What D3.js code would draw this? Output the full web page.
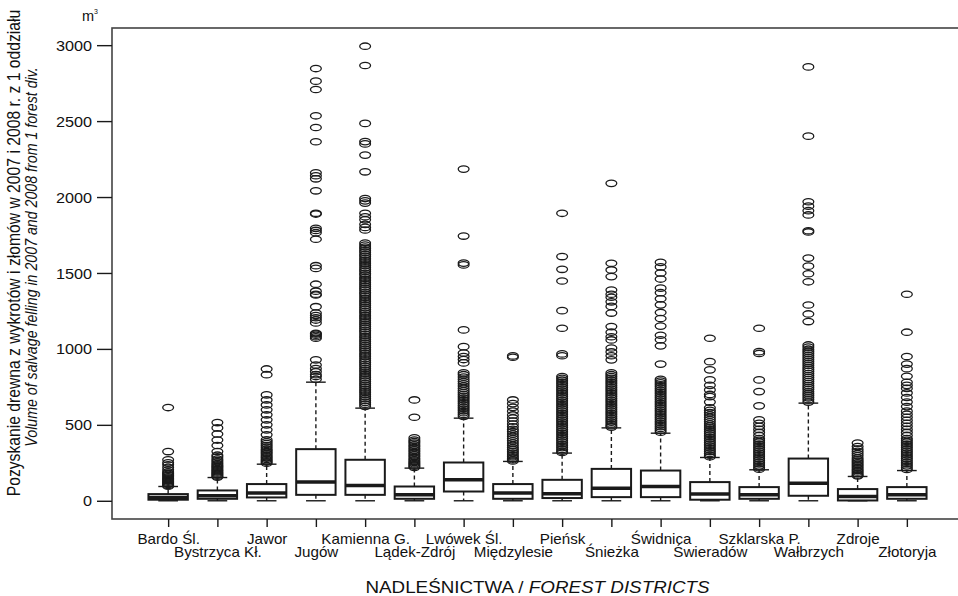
<!DOCTYPE html>
<html>
<head>
<meta charset="utf-8">
<script src="https://cdn.jsdelivr.net/npm/d3@7"></script>
<style>
  html, body { margin: 0; padding: 0; background: #fff; }
  svg { display: block; }
  text { font-family: "Liberation Sans", Arial, sans-serif; fill: #111; }
</style>
</head>
<body>
<svg id="chart" width="958" height="596"></svg>
<script>
// ---------- DATA ----------
const districts = ["Bardo Śl.", "Bystrzyca Kł.", "Jawor", "Jugów", "Kamienna G.", "Lądek-Zdrój",
  "Lwówek Śl.", "Międzylesie", "Pieńsk", "Śnieżka", "Świdnica", "Świeradów",
  "Szklarska P.", "Wałbrzych", "Zdroje", "Złotoryja"];

// box statistics
const lowerWhisker = [0, 0, 0, 0, 0, 0, 0, 0, 0, 0, 0, 0, 0, 0, 0, 0];
const q1Values     = [7, 13, 22, 39, 39, 13, 61, 13, 18, 24, 24, 7, 13, 33, 2, 13];
const medianValues = [22, 33, 51, 123, 101, 39, 138, 51, 46, 83, 94, 44, 39, 116, 28, 39];
const q3Values     = [44, 68, 110, 340, 270, 94, 252, 110, 138, 210, 199, 123, 90, 278, 77, 90];
const upperWhisker = [94, 153, 241, 781, 610, 215, 544, 259, 314, 480, 445, 285, 204, 643, 160, 199];

// outliers per district
const outBardo = [614, 324, 270, 250, 237, 220, 204, 190, 182, 174, 166, 158, 150, 143, 136, 129, 122, 115, 108, 101, 96];
const outBystrzyca = [515, 480, 440, 400, 364, 324, 300, 289, 275, 265, 255, 245, 236, 228, 220, 212, 204, 197, 190, 183, 176, 169, 162, 156];
const outJawor = [868, 830, 697, 664, 631, 599, 566, 533, 500, 467, 434, 401, 388, 376, 364, 352, 340, 330, 320, 310, 300, 290, 281, 272, 263, 255, 247];
const outJugow = [2846, 2763, 2708, 2535, 2458, 2364, 2160, 2140, 2120, 2041, 1893, 1888, 1794, 1780, 1765, 1722,
  1548, 1530, 1426, 1380, 1360, 1355, 1278, 1236, 1220, 1205, 1190, 1171, 1103, 1098, 1090, 1080, 1070,
  928, 894, 870, 850, 830, 818, 800];
const outKamienna = [2993, 2866, 2485, 2365, 2350, 2276, 2166, 1990, 1975, 1960, 1893, 1870, 1850, 1820, 1800, 1783,
  1697, 1684, 1671, 1660, 1647, 1636, 1622, 1610, 1597, 1585, 1573, 1560, 1548, 1534, 1522, 1511, 1497, 1486,
  1472, 1460, 1448, 1435, 1423, 1410, 1397, 1386, 1372, 1361, 1348, 1335, 1322, 1310, 1298, 1286, 1272, 1260,
  1248, 1236, 1222, 1210, 1198, 1185, 1173, 1160, 1148, 1135, 1122, 1111, 1098, 1085, 1073, 1060, 1048, 1035,
  1022, 1010, 998, 986, 972, 960, 948, 935, 922, 911, 898, 886, 872, 860, 848, 835, 822, 810, 798, 786, 772,
  760, 748, 735, 722, 711, 698, 685, 672, 660, 648, 636, 622];
const outLadek = [664, 550, 414, 400, 390, 380, 368, 357, 346, 335, 324, 313, 302, 291, 280, 270, 261, 252, 244, 236, 228, 220];
const outLwowek = [2184, 1743, 1565, 1553, 1125, 1015, 973, 950, 930, 908, 842, 830, 815, 800, 785, 770, 755, 740,
  725, 712, 700, 688, 676, 664, 652, 640, 628, 616, 604, 592, 580, 568, 556];
const outMiedzylesie = [954, 945, 664, 640, 615, 590, 565, 545, 525, 505, 487, 470, 455, 440, 425, 410, 395, 380,
  365, 350, 338, 326, 314, 302, 290, 280, 270, 262];
const outPiensk = [1893, 1608, 1524, 1447, 1252, 1136, 967, 955, 818, 806, 794, 782, 770, 758, 746, 734, 722, 710,
  698, 686, 674, 662, 650, 638, 626, 614, 602, 590, 578, 566, 554, 542, 530, 518, 506, 494, 482, 470, 458, 446,
  434, 422, 410, 398, 386, 374, 362, 350, 338, 326, 318];
const outSniezka = [2090, 1564, 1520, 1476, 1388, 1360, 1340, 1310, 1280, 1236, 1147, 1110, 1080, 1059, 1006, 980,
  955, 928, 842, 830, 818, 806, 794, 782, 770, 758, 746, 734, 722, 710, 698, 686, 674, 662, 650, 638, 626, 614,
  602, 590, 578, 566, 554, 542, 530, 518, 506, 494, 485];
const outSwidnica = [1570, 1540, 1500, 1460, 1400, 1370, 1330, 1290, 1240, 1200, 1150, 1090, 1060, 1020, 900, 800,
  788, 776, 764, 752, 740, 728, 716, 704, 692, 680, 668, 656, 644, 632, 620, 608, 596, 584, 572, 560, 548, 536,
  524, 512, 500, 488, 476, 464, 452];
const outSwieradow = [1070, 916, 862, 796, 760, 730, 700, 686, 650, 612, 595, 580, 565, 550, 535, 520, 505, 492,
  480, 468, 456, 444, 432, 420, 408, 396, 384, 372, 360, 348, 336, 324, 312, 300, 290];
const outSzklarska = [1136, 982, 970, 796, 719, 625, 533, 510, 490, 470, 450, 430, 410, 398, 386, 374, 362, 350,
  338, 326, 314, 302, 290, 278, 266, 254, 242, 230, 218, 208];
const outWalbrzych = [2857, 2401, 1969, 1940, 1910, 1882, 1778, 1770, 1598, 1545, 1495, 1442, 1289, 1230, 1180,
  1026, 1012, 998, 985, 972, 958, 945, 932, 918, 905, 892, 878, 865, 852, 838, 825, 812, 798, 785, 772, 758,
  745, 732, 718, 705, 692, 678, 665, 650];
const outZdroje = [380, 357, 340, 325, 310, 296, 282, 270, 260, 250, 240, 230, 220, 210, 200, 190, 180, 170, 164];
const outZlotoryja = [1360, 1110, 950, 900, 870, 820, 780, 760, 740, 710, 680, 650, 620, 590, 570, 550, 530, 510,
  490, 470, 450, 430, 410, 398, 386, 374, 362, 350, 338, 326, 314, 302, 290, 278, 266, 254, 242, 230, 218, 206];

const outliers = [outBardo, outBystrzyca, outJawor, outJugow, outKamienna, outLadek, outLwowek, outMiedzylesie,
  outPiensk, outSniezka, outSwidnica, outSwieradow, outSzklarska, outWalbrzych, outZdroje, outZlotoryja];

const yTicks = [0, 500, 1000, 1500, 2000, 2500, 3000];
const yTitle1 = "Pozyskanie drewna z wykrotów i złomów w 2007 i 2008 r. z 1 oddziału";
const yTitle2 = "Volume of salvage felling in 2007 and 2008 from 1 forest div.";
const xTitleA = "NADLEŚNICTWA / ";
const xTitleB = "FOREST DISTRICTS";
const unitLabel = "m";
const unitSup = "3";

// ---------- CHART ----------
const svg = d3.select("#chart");
const ink = "#1a1a1a";
const n = districts.length;

const x = d3.scaleLinear().domain([1 - 1.14, n + 1.14]).range([112, 963]);
const y = d3.scaleLinear().domain([-120, 3113]).range([519, 28]);
const boxW = (x(1) - x(0)) * 0.8;

const rows = districts.map((d, i) => ({
  name: d, i: i + 1,
  lw: lowerWhisker[i], q1: q1Values[i], med: medianValues[i], q3: q3Values[i], uw: upperWhisker[i],
  out: outliers[i]
}));

const g = svg.append("g");

// whiskers (dashed)
g.selectAll(".wh-up").data(rows).join("line")
  .attr("x1", d => x(d.i)).attr("x2", d => x(d.i))
  .attr("y1", d => y(d.q3)).attr("y2", d => y(d.uw))
  .attr("stroke", ink).attr("stroke-width", 1.4).attr("stroke-dasharray", "4,3");
g.selectAll(".wh-lo").data(rows).join("line")
  .attr("x1", d => x(d.i)).attr("x2", d => x(d.i))
  .attr("y1", d => y(d.q1)).attr("y2", d => y(d.lw))
  .attr("stroke", ink).attr("stroke-width", 1.4).attr("stroke-dasharray", "4,3");
// staples
["uw", "lw"].forEach(k => {
  g.selectAll(".st-" + k).data(rows).join("line")
    .attr("x1", d => x(d.i) - boxW / 4).attr("x2", d => x(d.i) + boxW / 4)
    .attr("y1", d => y(d[k])).attr("y2", d => y(d[k]))
    .attr("stroke", ink).attr("stroke-width", 1.4);
});
// boxes
g.selectAll(".box").data(rows).join("rect")
  .attr("x", d => x(d.i) - boxW / 2).attr("width", boxW)
  .attr("y", d => y(d.q3)).attr("height", d => y(d.q1) - y(d.q3))
  .attr("fill", "#fff").attr("stroke", ink).attr("stroke-width", 2);
// medians
g.selectAll(".med").data(rows).join("line")
  .attr("x1", d => x(d.i) - boxW / 2).attr("x2", d => x(d.i) + boxW / 2)
  .attr("y1", d => y(d.med)).attr("y2", d => y(d.med))
  .attr("stroke", ink).attr("stroke-width", 3.5);
// outliers
const pts = rows.flatMap(d => d.out.map(v => ({ i: d.i, v })));
g.selectAll(".out").data(pts).join("ellipse")
  .attr("cx", d => x(d.i)).attr("cy", d => y(d.v))
  .attr("rx", 5.4).attr("ry", 3.2)
  .attr("fill", "none").attr("stroke", ink).attr("stroke-width", 1.3);

// frame
svg.append("rect")
  .attr("x", x.range()[0]).attr("y", y.range()[1])
  .attr("width", x.range()[1] - x.range()[0]).attr("height", y.range()[0] - y.range()[1])
  .attr("fill", "none").attr("stroke", "#444").attr("stroke-width", 1.6);

// y axis
const yAxis = svg.append("g").attr("transform", `translate(${x.range()[0]},0)`)
  .call(d3.axisLeft(y).tickValues(yTicks).tickSize(15).tickPadding(5).tickFormat(d3.format("d")));
yAxis.select(".domain").remove();
yAxis.selectAll(".tick line").attr("stroke", ink).attr("stroke-width", 1.4);
yAxis.selectAll(".tick text")
  .attr("font-size", 14.5).attr("fill", "#111")
  .attr("x", null).attr("dy", "0.35em")
  .attr("transform", "translate(-20,0) scale(1.12,1)");

// x axis
const xAxis = svg.append("g").attr("transform", `translate(0,${y.range()[0]})`)
  .call(d3.axisBottom(x).tickValues(d3.range(1, n + 1)).tickSize(8).tickFormat((d, i) => districts[i]));
xAxis.select(".domain").remove();
xAxis.selectAll(".tick line").attr("stroke", ink).attr("stroke-width", 1.4);
xAxis.selectAll(".tick text")
  .attr("font-size", 13.8).attr("fill", "#111")
  .attr("y", null).attr("dy", null)
  .attr("transform", (d, i) => `translate(0,${i % 2 === 0 ? 25 : 38}) scale(1.1,1)`);

// x title
const xt = svg.append("text")
  .attr("text-anchor", "middle").attr("font-size", 16.5)
  .attr("transform", `translate(${(x.range()[0] + x.range()[1]) / 2},593) scale(1.14,1)`);
xt.append("tspan").text(xTitleA);
xt.append("tspan").attr("font-style", "italic").text(xTitleB);

// y titles
svg.append("text").attr("text-anchor", "middle").attr("font-size", 15.7)
  .attr("transform", "translate(19.5,253) scale(1.12,1) rotate(-90)").text(yTitle1);
svg.append("text").attr("text-anchor", "middle").attr("font-size", 14.2).attr("font-style", "italic")
  .attr("transform", "translate(36.5,257) scale(1.12,1) rotate(-90)").text(yTitle2);

// unit
const ut = svg.append("text").attr("x", 82).attr("y", 21).attr("font-size", 14.5);
ut.append("tspan").text(unitLabel);
ut.append("tspan").attr("font-size", 7).attr("dy", -7).text(unitSup);
</script>
</body>
</html>
